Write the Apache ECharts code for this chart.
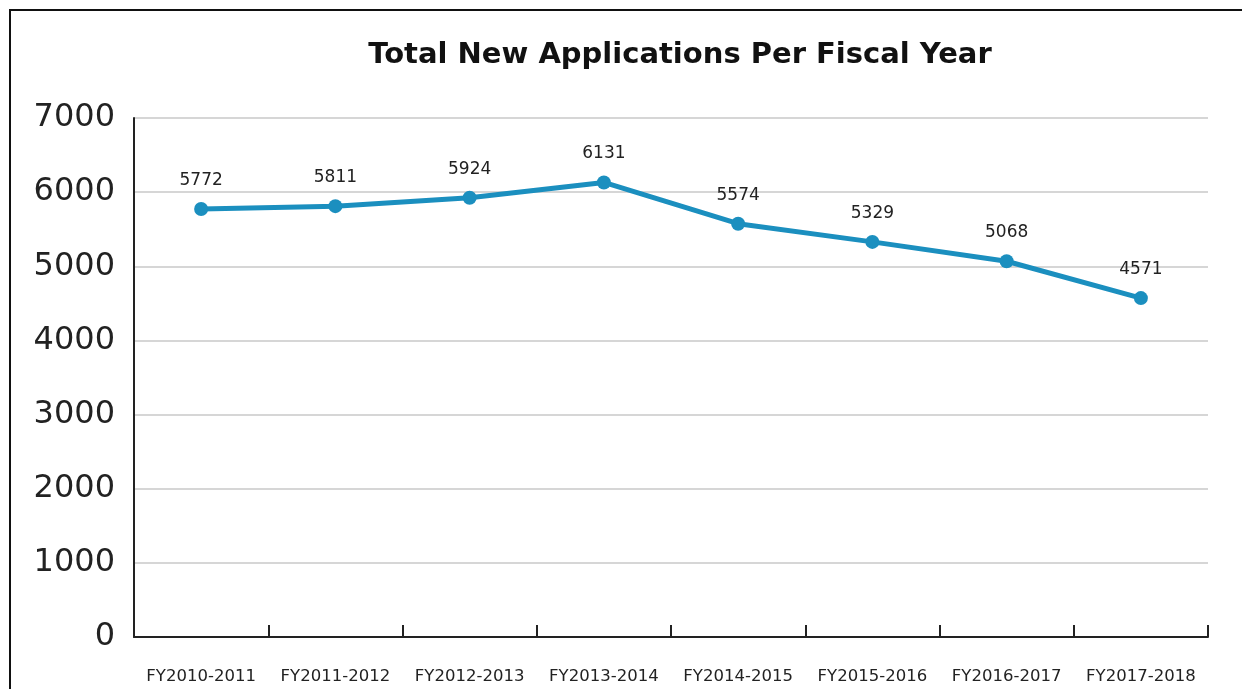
<!DOCTYPE html>
<html>
<head>
<meta charset="utf-8">
<script src="https://cdn.jsdelivr.net/npm/echarts@6/dist/echarts.min.js"></script>
<style>
  html, body { margin: 0; padding: 0; background: #fff; }
  #chart { width: 1242px; height: 689px; }
</style>
</head>
<body>
<div id="chart"></div>
<script>
// Fiscal years and new application totals
const fiscalYears = ['FY2010-2011', 'FY2011-2012', 'FY2012-2013', 'FY2013-2014',
                     'FY2014-2015', 'FY2015-2016', 'FY2016-2017', 'FY2017-2018'];
const newApplications = [5772, 5811, 5924, 6131, 5574, 5329, 5068, 4571];
const yTicks = [0, 1000, 2000, 3000, 4000, 5000, 6000, 7000];

const FONT = "'DejaVu Sans', sans-serif";

const chart = echarts.init(document.getElementById('chart'));
chart.setOption({
  backgroundColor: '#fff',
  animation: false,
  title: {
    text: 'Total New Applications Per Fiscal Year',
    left: 675,
    top: 36,
    textAlign: 'center',
    textStyle: { fontFamily: FONT, fontSize: 29, fontWeight: 'bold', color: '#111' }
  },
  graphic: [{
    type: 'rect',
    shape: { x: 10, y: 10, width: 1300, height: 800 },
    style: { fill: 'none', stroke: '#111', lineWidth: 2 },
    silent: true
  }],
  grid: { left: 134, right: 34, top: 118, bottom: 52 },
  xAxis: {
    type: 'category',
    data: fiscalYears,
    boundaryGap: true,
    axisLine: { lineStyle: { color: '#222', width: 2 } },
    axisTick: { show: true, inside: true, length: 12, interval: 0, lineStyle: { color: '#222', width: 2 } },
    axisLabel: { color: '#222', fontSize: 16.5, margin: 31, interval: 0, hideOverlap: false, fontFamily: FONT }
  },
  yAxis: {
    type: 'value',
    min: yTicks[0],
    max: yTicks[yTicks.length - 1],
    interval: 1000,
    axisLine: { show: true, lineStyle: { color: '#222', width: 2 } },
    axisTick: { show: false },
    splitLine: { lineStyle: { color: '#c8c8c8', width: 1.5 } },
    axisLabel: {
      color: '#222', fontSize: 32, margin: 19, fontFamily: FONT,
      formatter: v => String(v)
    }
  },
  series: [{
    type: 'line',
    data: newApplications,
    symbol: 'circle',
    symbolSize: 14,
    lineStyle: { color: '#1b8fbf', width: 5 },
    itemStyle: { color: '#1b8fbf' },
    label: {
      show: true,
      position: 'top',
      distance: 13,
      color: '#222',
      fontSize: 17,
      fontFamily: FONT
    }
  }]
});
</script>
</body>
</html>
